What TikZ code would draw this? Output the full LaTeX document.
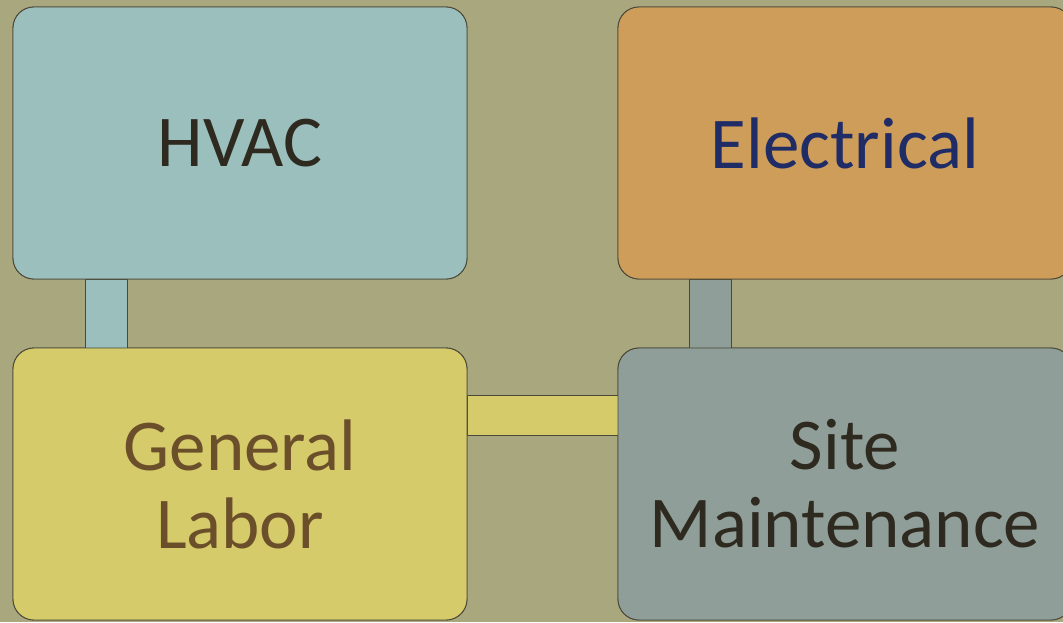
\documentclass[tikz,border=0pt]{standalone}
\usepackage{fontspec}
\setmainfont{Carlito}
\usetikzlibrary{calc}
\definecolor{bgcol}{HTML}{A9A77E}
\definecolor{hvaccol}{HTML}{9BBFBD}
\definecolor{eleccol}{HTML}{CE9D5A}
\definecolor{glcol}{HTML}{D5CB6B}
\definecolor{smcol}{HTML}{8F9E98}
\definecolor{edgecol}{HTML}{4A4838}
\definecolor{darktext}{HTML}{2E2A20}
\definecolor{navytext}{HTML}{1F2C66}
\definecolor{browntext}{HTML}{6B4F2A}
\tikzset{
  boxnode/.style={draw=edgecol, line width=0.9pt, rounded corners=21pt,
    minimum width=454pt, minimum height=272pt, inner sep=0pt, outer sep=0pt,
    align=center, font=\fontsize{73}{78}\selectfont},
  barshape/.style={draw=edgecol, line width=0.7pt}
}
\begin{document}
\begin{tikzpicture}[x=1pt,y=-1pt]
\fill[bgcol] (0,0) rectangle (1063,622);
\useasboundingbox (0,0) rectangle (1063,622);
% boxes
\node[boxnode, fill=hvaccol, text=darktext] (hvac) at (240,143) {HVAC};
\node[boxnode, fill=eleccol, text=navytext] (elec) at (845,143) {Electrical};
\node[boxnode, fill=glcol, text=browntext] (gl) at (240,484) {General\\Labor};
\node[boxnode, fill=smcol, text=darktext] (sm) at (845,484) {Site\\Maintenance};
% connector bars
\draw[barshape, fill=hvaccol] ($(hvac.south west)+(72,0)$) rectangle ($(gl.north west)+(114,0)$);
\draw[barshape, fill=smcol] ($(elec.south west)+(71,0)$) rectangle ($(sm.north west)+(113,0)$);
\draw[barshape, fill=glcol] ($(gl.east)+(0,-89)$) rectangle ($(sm.west)+(0,-49)$);
% redraw boxes on top so bars tuck under them
\node[boxnode, fill=hvaccol, text=darktext] at (hvac) {HVAC};
\node[boxnode, fill=eleccol, text=navytext] at (elec) {Electrical};
\node[boxnode, fill=glcol, text=browntext] at (gl) {General\\Labor};
\node[boxnode, fill=smcol, text=darktext] at (sm) {Site\\Maintenance};
\end{tikzpicture}
\end{document}
